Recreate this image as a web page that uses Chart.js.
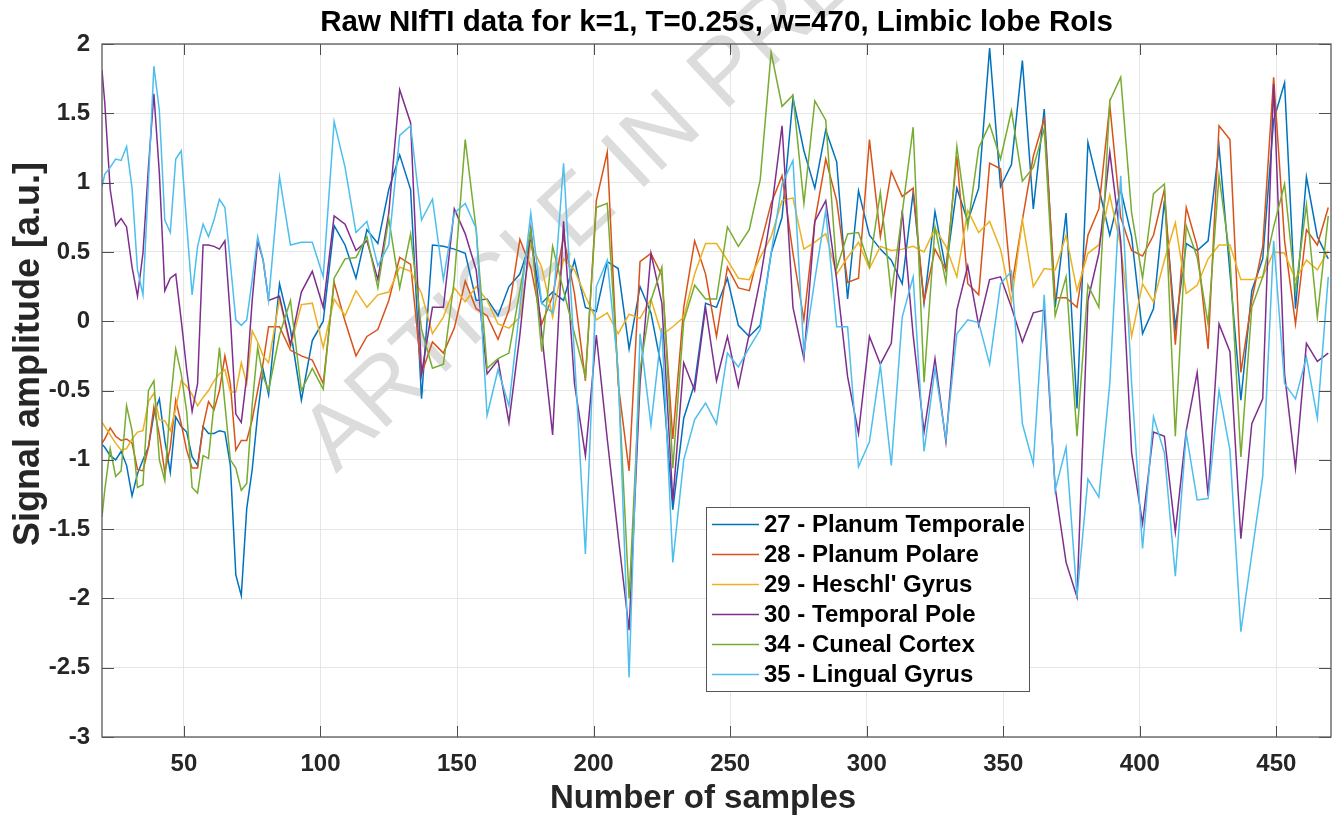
<!DOCTYPE html>
<html lang="en">
<head>
<meta charset="UTF-8">
<title>Raw NIfTI data - Limbic lobe RoIs</title>
<script src="https://cdn.jsdelivr.net/npm/chart.js"></script>
<style>
  html, body { margin: 0; padding: 0; background: #fff; }
  #wrap { width: 1335px; height: 816px; }
</style>
</head>
<body>
<div id="wrap"><canvas id="chart" width="1335" height="816"></canvas></div>
<script>
// sample index of each point (every 2 at the start, then every 4)
const samples = [20, 21, 23, 25, 27, 29, 31, 33, 35, 37, 39, 41, 43, 45, 47, 49, 51, 53, 55, 57, 59, 61, 63, 65, 67, 69, 71, 73, 75, 77, 79, 81,
  85, 89, 93, 97, 101, 105, 109, 113, 117, 121, 125, 129, 133, 137, 141, 145, 149, 153, 157, 161, 165, 169, 173, 177, 181, 185, 189, 193, 197,
  201, 205, 209, 213, 217, 221, 225, 229, 233, 237, 241, 245, 249, 253, 257, 261, 265, 269, 273, 277, 281, 285,
  289, 293, 297, 301, 305, 309, 313, 317, 321, 325, 329, 333, 337, 341, 345, 349, 353, 357, 361, 365, 369, 373, 377,
  381, 385, 389, 393, 397, 401, 405, 409, 413, 417, 421, 425, 429, 433, 437, 441, 445, 449, 453, 457, 461, 465, 469];

// 27 - Planum Temporale
const roi27 = [-0.89, -0.91, -0.97, -1.00, -0.94, -1.04, -1.26, -1.10, -1.00, -0.91, -0.67, -0.56, -0.86, -1.09, -0.69, -0.76, -0.80, -0.98, -1.04, -0.76, -0.81, -0.81, -0.79, -0.80, -1.04, -1.83, -1.98, -1.35, -1.07, -0.67, -0.35, -0.53,
  0.27, -0.06, -0.57, -0.14, 0.00, 0.69, 0.55, 0.31, 0.66, 0.56, 0.95, 1.20, 0.95, -0.56, 0.55, 0.54, 0.52, 0.49, 0.15, 0.16, 0.04, 0.25, 0.34, 0.58, 0.13, 0.21, 0.15, 0.44, 0.10,
  0.07, 0.43, 0.38, -0.20, 0.25, 0.06, -0.35, -1.36, -0.70, -0.45, 0.13, 0.10, 0.31, -0.03, -0.11, -0.03, 0.49, 0.75, 1.61, 1.23, 0.96, 1.38,
  1.15, 0.16, 0.94, 0.62, 0.52, 0.44, 0.27, 0.93, 0.13, 0.79, 0.37, 0.96, 0.72, 0.96, 1.97, 0.97, 1.13, 1.88, 0.81, 1.53, 0.10, 0.78, -0.63,
  1.29, 0.96, 0.62, 0.95, 0.61, -0.09, 0.09, 0.87, -0.05, 0.56, 0.51, 0.58, 1.26, 0.35, -0.57, 0.22, 0.45, 1.45, 1.72, 0.09, 1.04, 0.61, 0.45];

// 28 - Planum Polare
const roi28 = [-0.88, -0.85, -0.77, -0.83, -0.86, -0.85, -0.88, -1.07, -1.08, -0.91, -0.62, -0.82, -1.09, -0.91, -0.57, -0.74, -0.93, -1.06, -1.06, -0.76, -0.58, -0.64, -0.50, -0.25, -0.45, -0.93, -0.86, -0.86, -0.71, -0.50, -0.30, -0.04,
  -0.04, -0.21, -0.25, -0.28, -0.45, 0.28, 0.00, -0.25, -0.11, -0.06, 0.15, 0.46, 0.41, -0.38, -0.15, -0.23, -0.05, 0.29, 0.09, 0.04, -0.13, 0.08, 0.59, 0.39, -0.02, 0.18, 0.61, 0.20, -0.43,
  0.87, 1.22, -0.45, -1.08, 0.43, 0.49, 0.33, -0.85, 0.10, 0.58, 0.34, -0.11, 0.39, 0.24, 0.22, 0.54, 0.85, 1.05, 0.49, 0.01, 0.72, 1.17,
  0.87, 0.28, 0.31, 1.31, 0.61, 1.08, 0.90, 0.96, 0.14, 0.52, 0.37, 1.19, 0.27, 0.19, 1.14, 1.10, 0.24, 0.73, 1.19, 1.46, 0.17, 0.17, 0.10,
  0.62, 0.81, 1.56, 0.75, 0.51, 0.47, 0.62, 0.95, -0.17, 0.82, 0.54, -0.20, 1.41, 1.31, -0.37, 0.15, 0.54, 1.76, 0.58, -0.02, 0.66, 0.55, 0.82];

// 29 - Heschl' Gyrus
const roi29 = [-0.73, -0.76, -0.82, -0.88, -0.93, -0.92, -0.85, -0.80, -0.79, -0.58, -0.52, -0.71, -0.72, -0.79, -0.63, -0.43, -0.47, -0.53, -0.61, -0.55, -0.50, -0.43, -0.38, -0.35, -0.51, -0.51, -0.30, -0.45, -0.07, -0.15, -0.25, -0.30,
  0.16, -0.19, 0.12, 0.13, -0.19, 0.16, 0.04, 0.22, 0.10, 0.19, 0.21, 0.39, 0.36, 0.20, -0.09, 0.03, 0.24, 0.14, 0.25, 0.15, -0.02, -0.05, 0.03, 0.56, 0.39, 0.03, 0.45, 0.37, 0.18,
  0.01, 0.06, -0.09, 0.05, 0.02, 0.16, -0.10, -0.04, 0.03, 0.34, 0.56, 0.56, 0.44, 0.31, 0.30, 0.46, 0.61, 0.87, 0.89, 0.52, 0.57, 0.63,
  0.34, 0.46, 0.57, 0.38, 0.54, 0.51, 0.52, 0.54, 0.50, 0.67, 0.54, 0.32, 0.80, 0.64, 0.72, 0.52, 0.14, 0.73, 0.25, 0.38, 0.37, 0.62, 0.22,
  0.49, 0.55, 0.91, 0.54, -0.11, 0.27, 0.14, 0.44, 0.71, 0.20, 0.26, 0.45, 0.55, 0.55, 0.30, 0.30, 0.32, 0.50, 0.49, 0.30, 0.44, 0.37, 0.51];

// 30 - Temporal Pole
const roi30 = [1.81, 1.58, 0.95, 0.69, 0.74, 0.68, 0.39, 0.18, 0.49, 1.11, 1.64, 1.07, 0.22, 0.31, 0.34, 0.01, -0.35, -0.65, -0.45, 0.55, 0.55, 0.54, 0.52, 0.58, 0.03, -0.67, -0.73, -0.40, 0.15, 0.58, 0.44, 0.15,
  0.18, -0.17, 0.21, 0.36, 0.10, 0.76, 0.70, 0.51, 0.58, 0.30, 0.78, 1.67, 1.43, -0.38, 0.10, 0.10, 0.81, 0.63, 0.37, -0.38, -0.28, -0.73, -0.10, 0.67, -0.09, -0.82, 0.72, -0.45, -0.97,
  -0.10, -0.85, -1.55, -2.23, -0.45, 0.49, 0.13, -1.30, -0.30, -0.50, 0.10, -0.43, -0.11, -0.47, -0.09, 0.30, 0.78, 1.41, 0.10, -0.27, 0.72, 0.87,
  0.30, -0.40, -0.81, -0.11, -0.31, -0.16, 0.80, -0.10, -0.80, -0.27, -0.87, 0.08, 0.40, -0.03, 0.30, 0.32, 0.10, -0.15, 0.06, 0.08, -1.20, -1.74, -1.99,
  0.15, 0.49, 1.22, 0.58, -0.95, -1.46, -0.80, -0.83, -1.52, -0.79, -0.37, -1.26, -0.02, -0.22, -1.57, -0.74, -0.56, 1.71, -0.38, -1.06, -0.16, -0.29, -0.23];

// 34 - Cuneal Cortex
const roi34 = [-1.41, -1.22, -0.92, -1.12, -1.08, -0.61, -0.79, -1.20, -1.18, -0.50, -0.43, -1.00, -1.15, -0.60, -0.20, -0.38, -0.65, -1.20, -1.24, -0.97, -0.99, -0.60, -0.19, -0.60, -1.00, -1.06, -1.22, -1.17, -0.60, -0.19, -0.40, -0.50,
  -0.10, 0.15, -0.50, -0.34, -0.49, 0.31, 0.45, 0.46, 0.61, 0.24, 0.74, 0.24, 0.63, -0.06, -0.34, -0.31, 0.30, 1.31, 0.66, -0.34, -0.27, -0.23, 0.22, 0.66, -0.22, 0.54, 0.22, -0.09, -0.40,
  0.82, 0.85, -0.40, -2.00, -0.35, 0.15, 0.39, -1.06, 0.00, 0.26, 0.16, 0.16, 0.68, 0.54, 0.66, 1.02, 1.94, 1.55, 1.63, 0.85, 1.59, 1.45,
  0.38, 0.63, 0.64, 0.40, 0.93, 0.19, 0.78, 1.40, -0.44, 0.68, 0.28, 1.26, 0.68, 1.25, 1.42, 1.17, 1.52, 1.01, 1.11, 1.39, 0.04, 0.32, -0.83,
  0.26, 0.10, 1.59, 1.76, 0.78, 0.31, 0.92, 0.99, -0.83, 0.69, 0.46, -0.02, 1.05, 0.46, -0.98, 0.10, 0.32, 0.68, 0.99, 0.22, 0.84, 0.03, 0.76];

// 35 - Lingual Gyrus
const roi35 = [0.97, 1.06, 1.11, 1.17, 1.16, 1.26, 0.96, 0.37, 0.19, 1.00, 1.84, 1.52, 0.73, 0.64, 1.17, 1.23, 0.70, 0.19, 0.54, 0.70, 0.61, 0.73, 0.88, 0.82, 0.42, 0.01, -0.03, 0.01, 0.30, 0.61, 0.44, 0.15,
  1.04, 0.55, 0.57, 0.57, 0.32, 1.44, 1.11, 0.64, 0.72, 0.40, 0.55, 1.34, 1.41, 0.73, 0.88, 0.30, 0.78, 0.85, 0.67, -0.68, -0.35, -0.61, 0.10, 0.78, 0.13, 0.06, 1.14, -0.25, -1.68,
  0.25, 0.44, -0.35, -2.57, -0.09, -0.75, -0.05, -1.74, -1.00, -0.71, -0.59, -0.74, -0.23, -0.33, -0.19, -0.06, 0.49, 0.99, 1.16, -0.23, 0.30, 0.80,
  -0.04, -0.04, -1.05, -0.87, -0.32, -1.04, 0.03, 0.32, -0.94, -0.34, -0.85, -0.09, 0.01, -0.01, -0.31, 0.27, 0.36, -0.74, -1.03, 0.19, -1.22, -0.91, -1.99,
  -1.14, -1.27, -0.45, 1.05, -0.45, -1.64, -0.69, -0.95, -1.84, -0.81, -1.29, -1.28, -0.50, -0.93, -2.24, -1.68, -1.12, 0.58, -0.45, -0.56, -0.26, -0.70, 0.32];

const seriesNames = ['27 - Planum Temporale', '28 - Planum Polare', "29 - Heschl' Gyrus",
  '30 - Temporal Pole', '34 - Cuneal Cortex', '35 - Lingual Gyrus'];
const seriesColors = ['#0072BD', '#D95319', '#EDB120', '#7E2F8E', '#77AC30', '#4DBEEE'];
const xTicks = [50, 100, 150, 200, 250, 300, 350, 400, 450];
const yTicks = [-3, -2.5, -2, -1.5, -1, -0.5, 0, 0.5, 1, 1.5, 2];

const FONT = '"Liberation Sans", Arial, Helvetica, sans-serif';

const allSeries = [roi27, roi28, roi29, roi30, roi34, roi35];
allSeries.forEach((s, i) => {
  if (s.length !== samples.length) console.warn('length mismatch', i, s.length);
});

// matlab-like box, inward ticks, titles, watermark and legend
const figureDecor = {
  id: 'figureDecor',
  beforeDraw(chart) {
    const ctx = chart.ctx;
    ctx.save();
    ctx.fillStyle = '#fff';
    ctx.fillRect(0, 0, chart.width, chart.height);
    ctx.restore();
  },
  beforeDatasetsDraw(chart) {
    const ctx = chart.ctx;
    // watermark
    ctx.save();
    ctx.translate(336, 474);
    ctx.rotate(-43 * Math.PI / 180);
    ctx.font = '92px ' + FONT;
    ctx.fillStyle = '#dcdcdc';
    ctx.textAlign = 'left';
    ctx.textBaseline = 'alphabetic';
    ctx.fillText('ARTICLE IN PRESS', 0, 0);
    ctx.restore();
  },
  afterDatasetsDraw(chart) {
    const ctx = chart.ctx;
    const a = chart.chartArea;
    const xs = chart.scales.x, ys = chart.scales.y;
    ctx.save();
    ctx.strokeStyle = '#4d4d4d';
    ctx.lineWidth = 1;
    ctx.beginPath();
    xTicks.forEach(v => {
      const p = Math.round(xs.getPixelForValue(v)) + 0.5;
      ctx.moveTo(p, a.bottom); ctx.lineTo(p, a.bottom - 11);
      ctx.moveTo(p, a.top); ctx.lineTo(p, a.top + 11);
    });
    yTicks.forEach(v => {
      const p = Math.round(ys.getPixelForValue(v)) + 0.5;
      ctx.moveTo(a.left, p); ctx.lineTo(a.left + 12, p);
      ctx.moveTo(a.right, p); ctx.lineTo(a.right - 12, p);
    });
    ctx.stroke();
    ctx.strokeStyle = '#5a5a5a';
    ctx.lineWidth = 1.3;
    ctx.strokeRect(a.left, a.top, a.right - a.left, a.bottom - a.top);

    // title
    ctx.fillStyle = '#000';
    ctx.font = 'bold 29.5px ' + FONT;
    ctx.textAlign = 'center';
    ctx.textBaseline = 'middle';
    ctx.fillText('Raw NIfTI data for k=1, T=0.25s, w=470, Limbic lobe RoIs', (a.left + a.right) / 2, 23);

    // axis labels
    ctx.fillStyle = '#262626';
    ctx.font = 'bold 33px ' + FONT;
    ctx.fillText('Number of samples', 703, 799);
    ctx.save();
    ctx.translate(29, 354);
    ctx.rotate(-Math.PI / 2);
    ctx.font = 'bold 36px ' + FONT;
    ctx.fillText('Signal amplitude [a.u.]', 0, 0);
    ctx.restore();

    // legend box
    const lx = 706, ly = 507, lw = 323, lh = 184;
    ctx.fillStyle = '#fff';
    ctx.fillRect(lx, ly, lw, lh);
    ctx.strokeStyle = '#555';
    ctx.lineWidth = 1;
    ctx.strokeRect(lx + 0.5, ly + 0.5, lw, lh);
    ctx.font = 'bold 24px ' + FONT;
    ctx.textAlign = 'left';
    ctx.textBaseline = 'middle';
    chart.data.datasets.forEach((ds, i) => {
      const y = ly + 17.5 + i * 30;
      ctx.strokeStyle = ds.borderColor;
      ctx.lineWidth = 1.6;
      ctx.beginPath();
      ctx.moveTo(lx + 6, y); ctx.lineTo(lx + 53, y);
      ctx.stroke();
      ctx.fillStyle = '#000';
      ctx.fillText(ds.label, lx + 58, y + 1);
    });
    ctx.restore();
  }
};

const datasets = allSeries.map((vals, i) => ({
  label: seriesNames[i],
  data: samples.map((s, k) => ({ x: s, y: vals[k] })),
  borderColor: seriesColors[i],
  backgroundColor: seriesColors[i],
  borderWidth: 1.5,
  pointRadius: 0,
  tension: 0,
  fill: false,
  order: allSeries.length - i
}));

new Chart(document.getElementById('chart'), {
  type: 'line',
  data: { datasets },
  options: {
    responsive: false,
    animation: false,
    devicePixelRatio: 1,
    events: [],
    layout: { padding: { top: 44, right: 4, bottom: 0, left: 0 } },
    plugins: {
      legend: { display: false },
      title: { display: false },
      tooltip: { enabled: false }
    },
    scales: {
      x: {
        type: 'linear',
        min: 20,
        max: 470,
        afterFit: s => { s.height = 79; },
        afterBuildTicks: s => { s.ticks = xTicks.map(v => ({ value: v })); },
        grid: { color: '#e6e6e6', lineWidth: 1, drawTicks: false },
        border: { display: false },
        ticks: { color: '#262626', padding: 13, maxRotation: 0, callback: v => String(v), font: { family: FONT, size: 24, weight: 'bold' } },
        title: { display: false }
      },
      y: {
        type: 'linear',
        min: -3,
        max: 2,
        afterFit: s => { s.width = 102; },
        afterBuildTicks: s => { s.ticks = yTicks.map(v => ({ value: v })); },
        grid: { color: '#e6e6e6', lineWidth: 1, drawTicks: false },
        border: { display: false },
        ticks: { color: '#262626', padding: 12, callback: v => String(v), font: { family: FONT, size: 24, weight: 'bold' } },
        title: { display: false }
      }
    }
  },
  plugins: [figureDecor]
});
</script>
</body>
</html>
